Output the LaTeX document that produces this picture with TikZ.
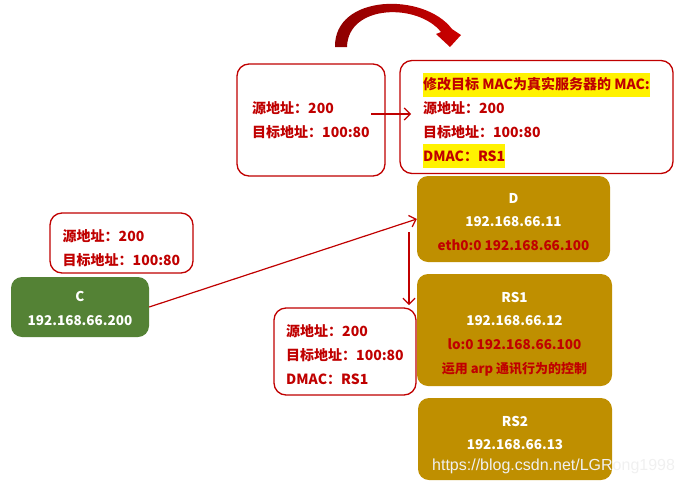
\documentclass[tikz,border=0pt]{standalone}
\usepackage{fontspec}
\setmainfont{Noto Sans CJK SC}
\newfontfamily\wmfont{Liberation Sans}
\usetikzlibrary{calc, positioning}
\usetikzlibrary{arrows.meta}
\definecolor{darkred}{HTML}{C00000}
\definecolor{gold}{HTML}{BF8F00}
\definecolor{leaf}{HTML}{548235}
\newcommand{\hl}[1]{{\setlength{\fboxsep}{0pt}\colorbox{yellow}{\strut #1}}}
\newcommand{\lift}[1]{\rule{0pt}{#1}}

\begin{document}
\begin{tikzpicture}[x=1pt,y=-1pt,
    msgbox/.style={draw=darkred,line width=1.3pt,rounded corners=12pt,fill=white,
      text=darkred,align=left,inner sep=0pt,
      font=\fontsize{14}{23.7}\selectfont\bfseries},
    hostbox/.style={fill=#1,rounded corners=11pt,text=white,align=center,inner sep=0pt,
      font=\fontsize{13.5}{23.7}\selectfont\bfseries},
    flow/.style={darkred,line width=1.2pt,-{Straight Barb[length=6pt,width=12pt]}}]
\useasboundingbox (0,0) rectangle (683,488);

% Client and servers
\node[hostbox=leaf,minimum width=138,minimum height=60] (C) at (80,307)
    {\lift{13.5pt}C\\192.168.66.200};
\node[hostbox=gold,minimum width=193,minimum height=86] (D) at (513.5,219)
    {\lift{16pt}D\\192.168.66.11\\\textcolor{darkred}{eth0:0 192.168.66.100}};
\node[hostbox=gold,minimum width=195,minimum height=112] (RS1) at (514.5,330)
    {\lift{18pt}RS1\\192.168.66.12\\\textcolor{darkred}{lo:0 192.168.66.100}\\
     \textcolor{darkred}{\fontsize{13}{23.7}\selectfont 运用 arp 通讯行为的控制}};
\node[hostbox=gold,minimum width=194,minimum height=82,text depth=12pt] (RS2) at (515,439)
    {RS2\\192.168.66.13};
\node[anchor=west,inner sep=0pt,text=white!88!gray,
    font=\wmfont\fontsize{16}{16}\selectfont] (wm) at (432,466)
    {https://blog.csdn.net/LGRong1998};

% Packet headers
\node[msgbox,minimum width=143,minimum height=60] (lblC) at (121.5,243)
    {\lift{22pt}源地址：200\\目标地址：100:80};
\node[msgbox,minimum width=148,minimum height=112] (srcA) at (311,120)
    {源地址：200\\目标地址：100:80};
\node[msgbox,minimum width=273,minimum height=113] (dstA) at (536.5,117)
    {\lift{24pt}\hl{修改目标 MAC为真实服务器的 MAC:}\\源地址：200\\目标地址：100:80\\\hl{DMAC：RS1}};
\node[msgbox,minimum width=142,minimum height=87] (lblRS) at (345,351.5)
    {\lift{18pt}源地址：200\\目标地址：100:80\\DMAC：RS1};

% Forwarding
\coordinate (relayS) at (371,114);
\coordinate (relayE) at (411,114);
\coordinate (fwdTop) at (409,232);
\coordinate (fwdBot) at (409,305);
\draw[flow] (C.east) -- (D.west);
\draw[flow] (relayS) -- (relayE);
\draw[flow] (fwdTop) -- (fwdBot);

% Big curved arrow
\shade[left color=red!55!black,right color=red!80!black]
    (335,47) .. controls (334,-6) and (424,-8) .. (452,29)
    -- (461,35) -- (450,47) -- (436,34) -- (441,32)
    .. controls (418,3) and (348,4) .. (347,47) -- cycle;
\end{tikzpicture}
\end{document}
